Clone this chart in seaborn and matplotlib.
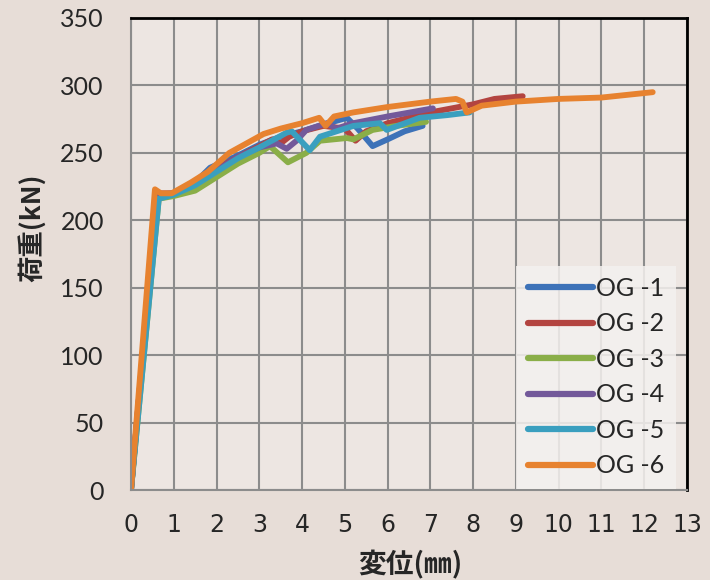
import pandas as pd
import matplotlib.pyplot as plt
import seaborn as sns

# 荷重-変位 data
og1_x = [0, 0.6, 1.0, 1.5, 1.85, 2.5, 3.0, 3.5, 4.0, 4.5, 5.05, 5.3, 5.65, 6.0, 6.4, 6.82]
og1_y = [0, 218, 220, 228, 239, 248, 256, 262, 266, 271, 276, 268, 255, 260, 266, 270]

og2_x = [0, 0.6, 1.0, 1.5, 2.0, 2.5, 3.0, 3.3, 3.5, 3.7, 4.0, 4.5, 5.0, 5.25, 5.5, 6.0, 6.5, 7.0, 7.5, 8.0, 8.5, 9.16]
og2_y = [0, 220, 220, 228, 238, 247, 255, 260, 257, 262, 266, 270, 268, 259, 266, 272, 276, 280, 283, 286, 290, 292]

og3_x = [0, 0.65, 1.0, 1.5, 2.0, 2.5, 3.0, 3.25, 3.67, 4.1, 4.42, 5.05, 5.2, 5.65, 6.2, 6.9]
og3_y = [0, 216, 218, 222, 232, 242, 250, 255, 243, 250, 259, 261, 260, 267, 270, 273]

og4_x = [0, 0.6, 1.0, 1.5, 2.0, 2.5, 3.0, 3.41, 3.64, 3.87, 4.1, 4.58, 4.8, 5.2, 6.0, 7.06]
og4_y = [0, 219, 220, 227, 237, 247, 254, 257, 253, 259, 267, 272, 268, 272, 277, 283]

og5_x = [0, 0.65, 1.0, 1.5, 2.0, 2.5, 3.0, 3.64, 3.76, 4.18, 4.42, 5.2, 5.82, 5.98, 6.75, 7.4, 7.92]
og5_y = [0, 216, 219, 226, 236, 246, 254, 265, 266, 252, 262, 270, 272, 267, 276, 278, 280]

og6_x = [0, 0.56, 0.7, 0.95, 1.4, 1.8, 2.3, 3.1, 3.5, 4.0, 4.4, 4.55, 4.75, 5.2, 6.0, 7.0, 7.6, 7.75, 7.85, 8.2, 9.0, 10.0, 11.0, 11.6, 12.2]
og6_y = [0, 223, 220, 220, 228, 236, 250, 264, 268, 272, 276, 270, 277, 280, 284, 288, 290, 288, 280, 285, 288, 290, 291, 293, 295]

names = ['OG -1', 'OG -2', 'OG -3', 'OG -4', 'OG -5', 'OG -6']
colors = ['#3d72b8', '#b34440', '#8aae48', '#73599a', '#3a9fbf', '#e7822f']

rows = []
for name, xs, ys in zip(names,
                        [og1_x, og2_x, og3_x, og4_x, og5_x, og6_x],
                        [og1_y, og2_y, og3_y, og4_y, og5_y, og6_y]):
    for i, (x, y) in enumerate(zip(xs, ys)):
        rows.append({'試験体': name, 'order': i, '変位': x, '荷重': y})
df = pd.DataFrame(rows)

sns.set_style('white')
plt.rcParams['font.family'] = ['Noto Sans CJK JP', 'DejaVu Sans']

fig = plt.figure(figsize=(7.1, 5.8), dpi=100, facecolor='#e7ddd7')
ax = fig.add_axes([0.1845, 0.155, 0.783, 0.814])
ax.set_facecolor('#ede6e2')

sns.lineplot(data=df, x='変位', y='荷重', hue='試験体', units='試験体',
             estimator=None, sort=False, palette=colors, linewidth=4.2,
             ax=ax, legend=True)
for line in ax.get_lines():
    line.set_solid_capstyle('round')
    line.set_solid_joinstyle('round')

ax.set_xlim(0, 13)
ax.set_ylim(0, 350)
ax.set_xticks(range(0, 14))
ax.set_yticks(range(0, 351, 50))
ax.grid(True, color='#8c8c8c', linewidth=1.5)
ax.set_axisbelow(True)

for side in ['left', 'bottom']:
    ax.spines[side].set_color('#8c8c8c')
    ax.spines[side].set_linewidth(1.5)
for side in ['top', 'right']:
    ax.spines[side].set_color('black')
    ax.spines[side].set_linewidth(2)

ax.tick_params(axis='both', direction='out', length=5.5, width=1.5,
               color='#8c8c8c')
ax.tick_params(axis='y', pad=14)
ax.tick_params(axis='x', pad=11)
for lab in ax.get_yticklabels():
    lab.set_family(['Lato', 'DejaVu Sans'])
    lab.set_fontsize(18)
for lab in ax.get_xticklabels():
    lab.set_family(['Liberation Sans Narrow', 'DejaVu Sans'])
    lab.set_fontsize(17)

ax.set_xlabel('変位(㎜)', fontsize=20, fontweight='bold')
ax.set_ylabel('荷重(kN)', fontsize=19, fontweight='bold')
ax.xaxis.set_label_coords(0.502, -0.128)
ax.yaxis.set_label_coords(-0.152, 0.555)

leg = ax.legend(loc='lower right', bbox_to_anchor=(0.98, 0.003),
                prop={'family': ['Lato', 'DejaVu Sans'], 'size': 18},
                frameon=True, handlelength=2.6, handletextpad=0.15,
                labelspacing=0.5, borderpad=0.45, borderaxespad=0.0,
                fancybox=False)
leg.get_frame().set_facecolor('#f4f1ef')
leg.get_frame().set_alpha(0.85)
leg.get_frame().set_linewidth(0)
for line in leg.get_lines():
    line.set_linewidth(4.5)
    line.set_solid_capstyle('round')

plt.savefig('out.png', dpi=100, facecolor=fig.get_facecolor())
